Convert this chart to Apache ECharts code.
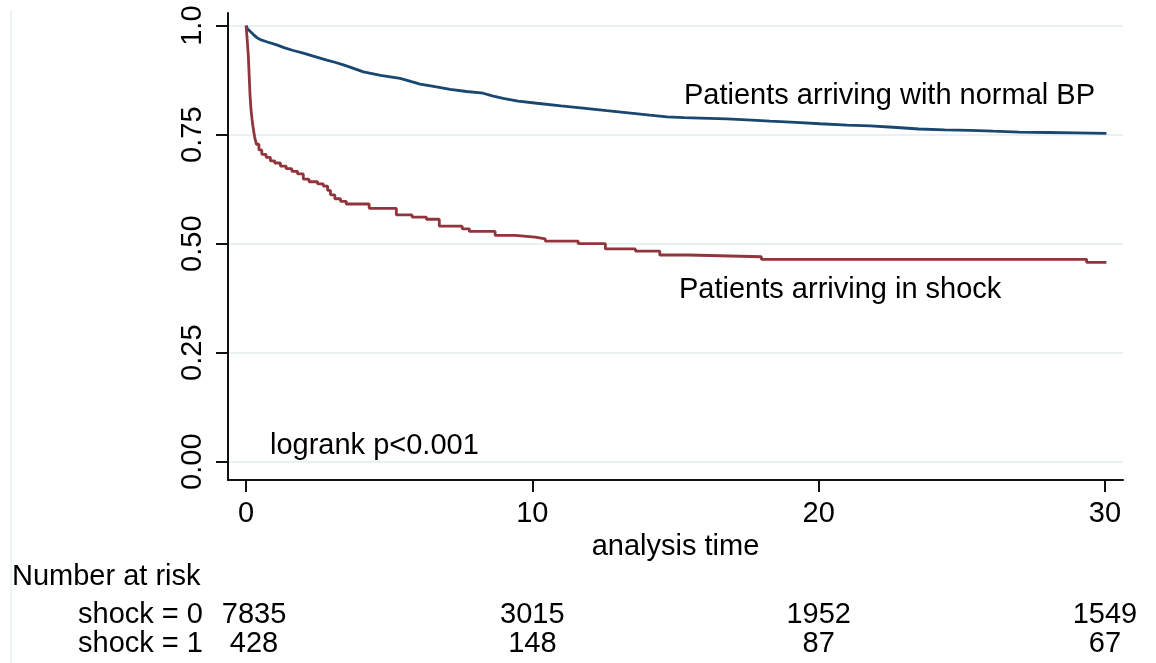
<!DOCTYPE html>
<html>
<head>
<meta charset="utf-8">
<script src="https://cdn.jsdelivr.net/npm/echarts@6/dist/echarts.min.js"></script>
<style>
html,body{margin:0;padding:0;background:#fff;}
#chart{width:1156px;height:663px;}
</style>
</head>
<body>
<div id="chart"></div>
<script>
// ---- data ----
const yTicks = [0, 0.25, 0.5, 0.75, 1];
const yTickLabels = ['0.00', '0.25', '0.50', '0.75', '1.0'];
const xTicks = [0, 10, 20, 30];

const normalTimes = [0,0.05,0.14,0.25,0.37,0.5,0.72,1.07,1.35,1.65,2.0,2.35,2.82,3.1,3.4,3.63,4.1,4.7,5.38,5.75,6.08,6.6,7.13,7.7,8.28,8.6,8.98,9.5,10.16,11.0,11.77,12.6,13.52,14.1,14.7,15.3,15.86,16.8,17.5,18.3,19.2,20.05,21.0,21.8,22.6,23.5,24.4,25.3,26.1,27.0,28.0,29.0,30.05];
const normalSurv  = [1,0.993,0.987,0.98,0.973,0.968,0.963,0.956,0.949,0.943,0.937,0.93,0.921,0.916,0.91,0.905,0.894,0.886,0.879,0.872,0.866,0.86,0.854,0.849,0.845,0.839,0.833,0.827,0.822,0.816,0.811,0.805,0.799,0.795,0.791,0.789,0.788,0.786,0.784,0.781,0.778,0.775,0.772,0.77,0.767,0.763,0.761,0.76,0.758,0.756,0.755,0.754,0.753];

const shockTimes = [0,0.02,0.05,0.08,0.1,0.12,0.14,0.17,0.21,0.25,0.3,0.36,0.45,0.55,0.7,0.85,1.0,1.2,1.4,1.6,1.8,2.0,2.2,2.5,2.7,2.85,2.95,3.1,3.3,3.5,4.3,5.25,5.8,6.3,6.75,7.55,7.8,8.7,9.4,10.1,10.45,11.6,12.55,13.6,14.45,15.45,18.0,29.36,30.05];
const shockSurv  = [1,0.985,0.96,0.93,0.9,0.87,0.84,0.81,0.785,0.765,0.745,0.728,0.715,0.705,0.698,0.69,0.685,0.678,0.672,0.666,0.66,0.648,0.642,0.637,0.632,0.622,0.612,0.603,0.597,0.591,0.581,0.566,0.561,0.556,0.54,0.534,0.528,0.519,0.515,0.511,0.506,0.5,0.488,0.483,0.474,0.47,0.464,0.457,0.457];

const riskTimes = [0, 10, 20, 30];
const riskRows = ['shock = 0', 'shock = 1'];
const riskShock0 = [7835, 3015, 1952, 1549];
const riskShock1 = [428, 148, 87, 67];
// --------------------------------------

const FONT = '"Liberation Sans", Arial, Helvetica, sans-serif';
const FS = 29;
const XMIN = -0.63, XMAX = 30.63;

function pairs(ts, vs) { return ts.map((t, i) => [t, vs[i]]); }
function riskData(row) {
  return riskTimes.map((t, i) => ({
    value: [t, row],
    label: { offset: [i === 0 ? 8 : 0, 0] }
  }));
}

const chart = echarts.init(document.getElementById('chart'), null, { renderer: 'canvas' });

const riskLabel = (vals) => ({
  show: true, position: 'inside', fontSize: FS, color: '#000', fontFamily: FONT,
  textBorderWidth: 0, opacity: 1,
  formatter: p => String(vals[p.dataIndex])
});

const option = {
  backgroundColor: '#ffffff',
  animation: false,
  textStyle: { fontFamily: FONT },
  grid: [
    { left: 228, right: 33, top: 13, bottom: 183, containLabel: false, outerBoundsMode: 'none' },
    { left: 228, right: 33, top: 600, height: 58, containLabel: false, outerBoundsMode: 'none' }
  ],
  xAxis: [
    {
      gridIndex: 0, type: 'value', min: XMIN, max: XMAX,
      axisLine: { show: true, onZero: false, lineStyle: { color: '#111', width: 2 } },
      axisTick: { show: true, length: 12, customValues: xTicks, lineStyle: { color: '#111', width: 2 } },
      axisLabel: { show: true, customValues: xTicks, margin: 19, fontSize: FS, color: '#000', fontFamily: FONT },
      splitLine: { show: false },
      name: 'analysis time', nameLocation: 'middle', nameGap: 50,
      nameTextStyle: { fontSize: FS, color: '#000', fontFamily: FONT }
    },
    {
      gridIndex: 1, type: 'value', min: XMIN, max: XMAX, show: false
    }
  ],
  yAxis: [
    {
      gridIndex: 0, type: 'value', min: -0.042, max: 1.029,
      axisLine: { show: true, onZero: false, lineStyle: { color: '#111', width: 2 } },
      axisTick: { show: true, length: 12, customValues: yTicks, lineStyle: { color: '#111', width: 2 } },
      axisLabel: {
        show: true, customValues: yTicks, rotate: 90, margin: 21, fontSize: FS, color: '#000', fontFamily: FONT,
        formatter: function (v) { const i = yTicks.findIndex(t => Math.abs(t - v) < 1e-9); return i >= 0 ? yTickLabels[i] : ''; }
      },
      splitLine: { show: true, lineStyle: { color: '#e9f1f2', width: 2 } }
    },
    {
      gridIndex: 1, type: 'category', data: riskRows, inverse: true,
      axisLine: { show: false }, axisTick: { show: false }, splitLine: { show: false },
      axisLabel: { show: true, interval: 0, align: 'left', margin: 150, fontSize: FS, color: '#000', fontFamily: FONT }
    }
  ],
  series: [
    {
      name: 'Patients arriving with normal BP', type: 'line',
      xAxisIndex: 0, yAxisIndex: 0, data: pairs(normalTimes, normalSurv),
      showSymbol: false, symbol: 'none', z: 3,
      lineStyle: { color: '#1a476f', width: 2.8 }
    },
    {
      name: 'Patients arriving in shock', type: 'line', step: 'end',
      xAxisIndex: 0, yAxisIndex: 0, data: pairs(shockTimes, shockSurv),
      showSymbol: false, symbol: 'none', z: 3,
      lineStyle: { color: '#90353b', width: 2.8 }
    },
    {
      name: 'risk0', type: 'scatter', xAxisIndex: 1, yAxisIndex: 1,
      data: riskData(riskRows[0]), symbolSize: 0.01,
      itemStyle: { color: '#ffffff', opacity: 1 },
      label: riskLabel(riskShock0)
    },
    {
      name: 'risk1', type: 'scatter', xAxisIndex: 1, yAxisIndex: 1,
      data: riskData(riskRows[1]), symbolSize: 0.01,
      itemStyle: { color: '#ffffff', opacity: 1 },
      label: riskLabel(riskShock1)
    }
  ],
  graphic: [
    { type: 'line', silent: true, shape: { x1: 11, y1: 10, x2: 11, y2: 663 }, style: { stroke: '#e8f0f1', lineWidth: 1.5 } },
    { type: 'text', left: 684, top: 81, style: { text: 'Patients arriving with normal BP', font: FS + 'px ' + FONT, fill: '#000' } },
    { type: 'text', left: 679, top: 275, style: { text: 'Patients arriving in shock', font: FS + 'px ' + FONT, fill: '#000' } },
    { type: 'text', left: 270, top: 431, style: { text: 'logrank p<0.001', font: FS + 'px ' + FONT, fill: '#000' } },
    { type: 'text', left: 12, top: 562, style: { text: 'Number at risk', font: FS + 'px ' + FONT, fill: '#000' } }
  ]
};

chart.setOption(option);
</script>
</body>
</html>
